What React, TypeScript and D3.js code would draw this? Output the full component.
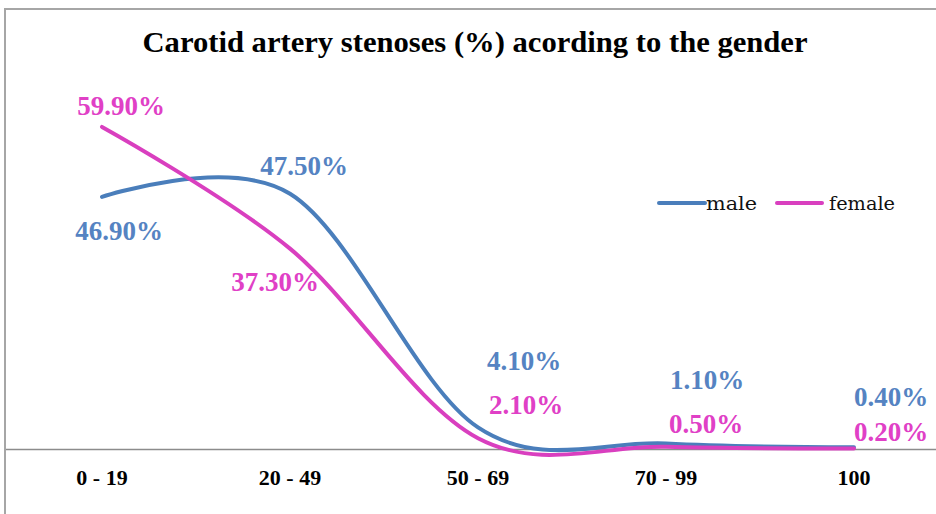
import React from 'react';
import * as d3 from 'd3';

const categories = ['0 - 19', '20 - 49', '50 - 69', '70 - 99', '100'];
const maleValues = [46.9, 47.5, 4.1, 1.1, 0.4];
const femaleValues = [59.9, 37.3, 2.1, 0.5, 0.2];
const maleLabels = ['46.90%', '47.50%', '4.10%', '1.10%', '0.40%'];
const femaleLabels = ['59.90%', '37.30%', '2.10%', '0.50%', '0.20%'];

// label offsets from each point (dx to text centre, dy to baseline)
const maleOffsets = [[17, 43], [14, -19], [46, -57], [41, -55], [37, -41]];
const femaleOffsets = [[19, -12], [-15, 42], [48, -24], [40, -14], [37, -7]];

const W = 936;
const H = 514;
const BLUE = '#4a7ebb';
const PINK = '#d93fbf';
const BLUE_TXT = '#5583c2';
const PINK_TXT = '#e040c6';

const App = () => {
  const x = d3.scalePoint<string>().domain(categories).range([102, 854]);
  const y = d3.scaleLinear().domain([0, 60]).range([449.5, 126.4]);

  const line = d3
    .line<number>()
    .x((d, i) => x(categories[i]) as number)
    .y((d) => y(d))
    .curve(d3.curveCardinal.tension(0));

  const series = [
    { name: 'male', values: maleValues, labels: maleLabels, offs: maleOffsets, color: BLUE, txt: BLUE_TXT },
    { name: 'female', values: femaleValues, labels: femaleLabels, offs: femaleOffsets, color: PINK, txt: PINK_TXT },
  ];

  return (
    <svg width={W} height={H} style={{ position: 'absolute', left: 0, top: 0, background: '#fff' }}>
      <rect x={5} y={9} width={W + 10} height={H + 10} fill="#fff" stroke="#a6a6a6" strokeWidth={2} />
      <text
        x={475}
        y={52}
        textAnchor="middle"
        fontFamily="'Liberation Serif', serif"
        fontWeight="bold"
        fontSize={30}
        textLength={665}
        lengthAdjust="spacingAndGlyphs"
        fill="#000"
      >
        Carotid artery stenoses (%) acording to the gender
      </text>

      <line x1={6} x2={W} y1={y(0)} y2={y(0)} stroke="#8c8c8c" strokeWidth={1.5} />

      {categories.map((c) => (
        <text
          key={c}
          x={x(c)}
          y={485}
          textAnchor="middle"
          fontFamily="'Liberation Serif', serif"
          fontWeight="bold"
          fontSize={22}
          fill="#000"
        >
          {c}
        </text>
      ))}

      {series.map((s) => (
        <path
          key={s.name}
          d={line(s.values) || ''}
          fill="none"
          stroke={s.color}
          strokeWidth={4}
          strokeLinecap="round"
        />
      ))}

      {series.map((s) =>
        s.values.map((v, i) => (
          <text
            key={s.name + i}
            x={(x(categories[i]) as number) + s.offs[i][0]}
            y={y(v) + s.offs[i][1]}
            textAnchor="middle"
            fontFamily="'Liberation Serif', serif"
            fontWeight="bold"
            fontSize={27}
            fill={s.txt}
          >
            {s.labels[i]}
          </text>
        ))
      )}

      <g fontFamily="'DejaVu Serif', serif" fontSize={19} fill="#111">
        <line x1={659} x2={705} y1={203} y2={203} stroke={BLUE} strokeWidth={4} strokeLinecap="round" />
        <text x={706} y={210} textLength={51} lengthAdjust="spacingAndGlyphs">male</text>
        <line x1={777} x2={822} y1={203} y2={203} stroke={PINK} strokeWidth={4} strokeLinecap="round" />
        <text x={829} y={210} textLength={66} lengthAdjust="spacingAndGlyphs">female</text>
      </g>
    </svg>
  );
};

export default App;
